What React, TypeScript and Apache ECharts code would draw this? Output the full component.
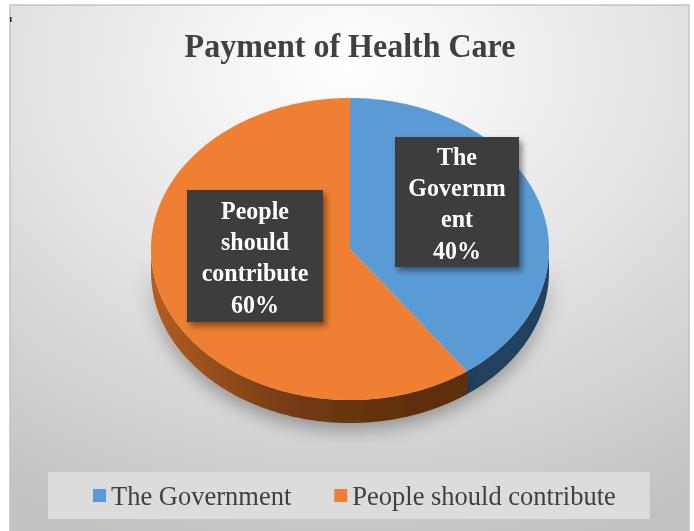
import React, { useEffect, useRef } from "react";
import * as echarts from "echarts";

const categories = ["The Government", "People should contribute"];
const values = [40, 60];
const labelLines = [
  ["The", "Governm", "ent"],
  ["People", "should", "contribute"],
];
const titleText = "Payment of Health Care";

const topColors = ["#5b9bd5", "#ef7f32"];
const CX = 350, CY = 249, RX = 199, RY = 151, DEPTH = 23;
const LABEL_BOX = [
  { x: 395, y: 137, w: 124, h: 130 },
  { x: 187, y: 190, w: 136, h: 132 },
];
const SERIF = '"Liberation Serif", "Times New Roman", serif';

const total = values.reduce((a, b) => a + b, 0);
function startAngle(i: number) {
  let s = 0;
  for (let k = 0; k < i; k++) s += values[k];
  return (s / total) * 360;
}
function pt(t: number, dy = 0) {
  const r = (t * Math.PI) / 180;
  return [CX + RX * Math.sin(r), CY - RY * Math.cos(r) + dy];
}

const sideFills = [
  "#23415f",
  new echarts.graphic.LinearGradient(CX - RX, 0, CX + 60, 0, [
    { offset: 0, color: "#b35e22" },
    { offset: 0.55, color: "#733a13" },
    { offset: 1, color: "#5e2f0f" },
  ], true),
];

function makeRender(i: number) {
  return (params: any, api: any) => {
    const v = api.value(0);
    const a0 = startAngle(i);
    const a1 = a0 + (v / total) * 360;
    const children: any[] = [];
    const s0 = Math.max(a0, 90), s1 = Math.min(a1, 270);
    if (s1 > s0) {
      const pts: number[][] = [];
      for (let t = s0; t < s1; t += 1) pts.push(pt(t));
      pts.push(pt(s1));
      for (let t = s1; t > s0; t -= 1) pts.push(pt(t, DEPTH));
      pts.push(pt(s0, DEPTH));
      children.push({
        type: "polygon",
        shape: { points: pts },
        style: {
          fill: sideFills[i],
          shadowBlur: 18,
          shadowColor: "rgba(0,0,0,0.35)",
          shadowOffsetY: 6,
        },
        z2: 1,
      });
    }
    const top: number[][] = [[CX, CY]];
    for (let t = a0; t < a1; t += 1) top.push(pt(t));
    top.push(pt(a1));
    children.push({
      type: "polygon",
      shape: { points: top },
      style: { fill: topColors[i] },
      z2: 2,
    });
    const b = LABEL_BOX[i];
    const pct = Math.round((v / total) * 100) + "%";
    children.push({
      type: "rect",
      shape: { x: b.x, y: b.y, width: b.w, height: b.h },
      style: {
        fill: "#3d3d3d",
        shadowBlur: 6,
        shadowOffsetX: 3,
        shadowOffsetY: 4,
        shadowColor: "rgba(0,0,0,0.45)",
      },
      z2: 10,
    });
    children.push({
      type: "text",
      x: b.x + b.w / 2,
      y: b.y + b.h / 2 + 1,
      scaleY: 1.08,
      style: {
        text: labelLines[i].concat([pct]).join("\n"),
        x: 0,
        y: 0,
        align: "center",
        verticalAlign: "middle",
        fill: "#ffffff",
        fontFamily: SERIF,
        fontWeight: "bold",
        fontSize: 24,
        lineHeight: 29,
      },
      z2: 11,
    });
    return { type: "group", children };
  };
}

export default function App() {
  const ref = useRef<HTMLDivElement>(null);
  useEffect(() => {
    const chart = echarts.init(ref.current!, null, { renderer: "svg" });
    chart.setOption({
      animation: false,
      graphic: [
        {
          type: "rect",
          z: -10,
          silent: true,
          shape: { x: 10, y: 5, width: 679, height: 527 },
          style: {
            fill: new echarts.graphic.RadialGradient(0.5, 0.12, 0.95, [
              { offset: 0, color: "#ffffff" },
              { offset: 0.45, color: "#e6e6e6" },
              { offset: 1, color: "#c2c2c2" },
            ]),
            stroke: "#c4c4c4",
            lineWidth: 1.5,
          },
        },
        {
          type: "rect",
          z: -9,
          silent: true,
          shape: { x: 10, y: 17, width: 1.5, height: 5 },
          style: { fill: "#222" },
        },
        {
          type: "text",
          z: 5,
          x: 350,
          y: 46,
          scaleY: 1.05,
          style: {
            text: titleText,
            x: 0,
            y: 0,
            align: "center",
            verticalAlign: "middle",
            fill: "#404040",
            fontFamily: SERIF,
            fontWeight: "bold",
            fontSize: 32,
          },
        },
      ],
      legend: {
        data: categories,
        left: 48,
        top: 472,
        icon: "rect",
        itemWidth: 13,
        itemHeight: 13,
        itemGap: 43,
        padding: [10, 34, 10, 45],
        backgroundColor: "#dcdcdc",
        selectedMode: false,
        textStyle: { fontFamily: SERIF, fontSize: 26.5, color: "#404040" },
      },
      series: categories.map((name, i) => ({
        type: "custom",
        name,
        coordinateSystem: "none",
        itemStyle: { color: topColors[i] },
        data: [values[i]],
        renderItem: makeRender(i),
      })),
    });
    return () => chart.dispose();
  }, []);
  return (
    <div
      ref={ref}
      style={{ position: "fixed", left: 0, top: 0, width: 694, height: 531 }}
    />
  );
}
